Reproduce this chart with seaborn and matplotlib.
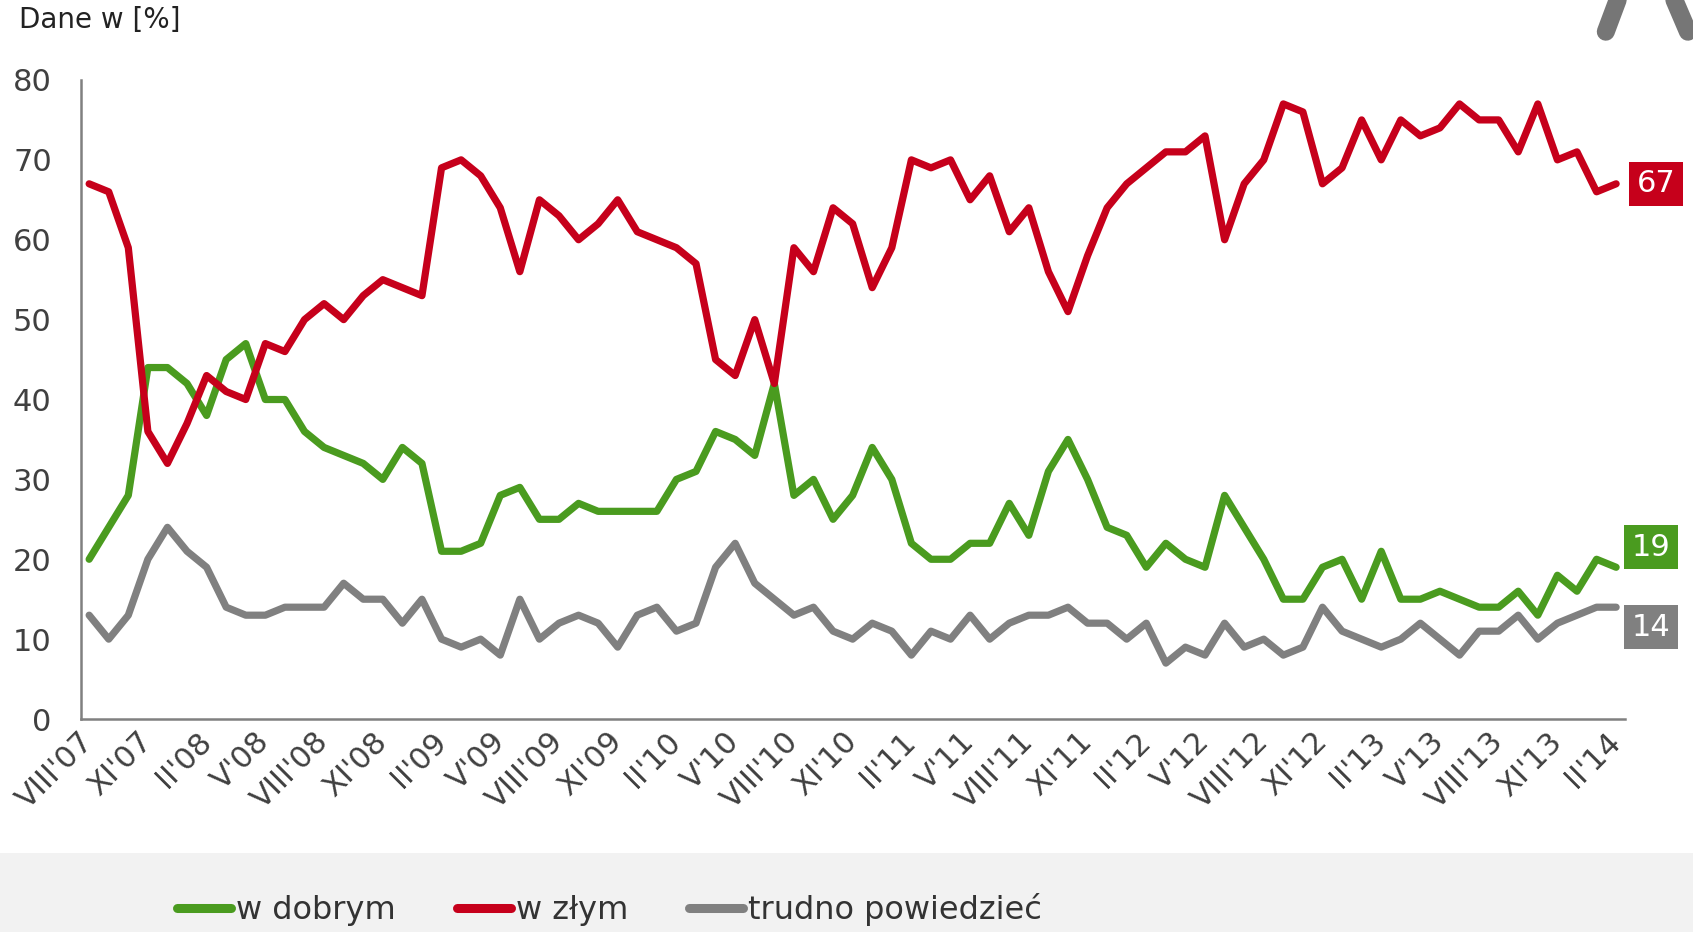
import matplotlib
matplotlib.use('Agg')  # no display

import matplotlib.pyplot as plt
import seaborn as sns
import pandas as pd
from matplotlib.lines import Line2D
from matplotlib.patches import Rectangle

# monthly data VIII'07 .. II'14
w_dobrym = [20, 24, 28, 44, 44, 42, 38, 45, 47, 40, 40, 36, 34, 33, 32, 30, 34, 32, 21, 21,
            22, 28, 29, 25, 25, 27, 26, 26, 26, 26, 30, 31, 36, 35, 33, 42, 28, 30, 25, 28,
            34, 30, 22, 20, 20, 22, 22, 27, 23, 31, 35, 30, 24, 23, 19, 22, 20, 19, 28, 24,
            20, 15, 15, 19, 20, 15, 21, 15, 15, 16, 15, 14, 14, 16, 13, 18, 16, 20, 19]
w_zlym = [67, 66, 59, 36, 32, 37, 43, 41, 40, 47, 46, 50, 52, 50, 53, 55, 54, 53, 69, 70,
          68, 64, 56, 65, 63, 60, 62, 65, 61, 60, 59, 57, 45, 43, 50, 42, 59, 56, 64, 62,
          54, 59, 70, 69, 70, 65, 68, 61, 64, 56, 51, 58, 64, 67, 69, 71, 71, 73, 60, 67,
          70, 77, 76, 67, 69, 75, 70, 75, 73, 74, 77, 75, 75, 71, 77, 70, 71, 66, 67]
trudno = [13, 10, 13, 20, 24, 21, 19, 14, 13, 13, 14, 14, 14, 17, 15, 15, 12, 15, 10, 9,
          10, 8, 15, 10, 12, 13, 12, 9, 13, 14, 11, 12, 19, 22, 17, 15, 13, 14, 11, 10,
          12, 11, 8, 11, 10, 13, 10, 12, 13, 13, 14, 12, 12, 10, 12, 7, 9, 8, 12, 9,
          10, 8, 9, 14, 11, 10, 9, 10, 12, 10, 8, 11, 11, 13, 10, 12, 13, 14, 14]

tick_labels = ["VIII'07", "XI'07", "II'08", "V'08", "VIII'08", "XI'08", "II'09", "V'09",
               "VIII'09", "XI'09", "II'10", "V'10", "VIII'10", "XI'10", "II'11", "V'11",
               "VIII'11", "XI'11", "II'12", "V'12", "VIII'12", "XI'12", "II'13", "V'13",
               "VIII'13", "XI'13", "II'14"]

series_names = ['w dobrym', 'w złym', 'trudno powiedzieć']
colors = {'w dobrym': '#4a9b1f', 'w złym': '#c6001b', 'trudno powiedzieć': '#808080'}

months = list(range(len(w_dobrym)))
df = pd.DataFrame({
    'miesiac': months * 3,
    'wartosc': w_dobrym + w_zlym + trudno,
    'seria': [n for n in series_names for _ in months],
})

sns.set_style('white')
plt.rcParams['font.family'] = ['DejaVu Sans']

fig = plt.figure(figsize=(16.93, 9.32), dpi=100)
ax = fig.add_axes([0.0478, 0.2285, 0.912, 0.6857])

sns.lineplot(data=df, x='miesiac', y='wartosc', hue='seria', hue_order=series_names,
             palette=colors, linewidth=5.2, solid_capstyle='round',
             solid_joinstyle='round', legend=False, ax=ax)

ax.set_xlim(-0.42, 78.45)
ax.set_ylim(0, 80)
ax.set_yticks(range(0, 81, 10))
ax.set_xticks(months[::3])
ax.set_xticklabels(tick_labels, rotation=45, ha='right', va='center',
                   rotation_mode='anchor')
ax.set_xlabel('')
ax.set_ylabel('')
ax.tick_params(axis='y', length=0, pad=21, labelsize=22, labelcolor='#404040')
ax.tick_params(axis='x', length=0, pad=13, labelsize=22, labelcolor='#404040')

for side in ['top', 'right']:
    ax.spines[side].set_visible(False)
for side in ['left', 'bottom']:
    ax.spines[side].set_color('#808080')
    ax.spines[side].set_linewidth(1.8)

# end value boxes
last = {'w dobrym': w_dobrym[-1], 'w złym': w_zlym[-1], 'trudno powiedzieć': trudno[-1]}
offsets = {'w dobrym': (11, 14.5), 'w złym': (15, 0), 'trudno powiedzieć': (11, -14.5)}
for name in series_names:
    ax.annotate(str(last[name]), xy=(months[-1], last[name]), xytext=offsets[name],
                textcoords='offset points', ha='left', va='center', fontsize=22,
                color='white', annotation_clip=False,
                bbox=dict(boxstyle='square,pad=0.25', fc=colors[name], ec='none'))

fig.text(0.011, 0.979, 'Dane w [%]', fontsize=20, color='#222222', va='center', ha='left')

# grey band with legend
fig.add_artist(Rectangle((0, 0), 1, 0.085, transform=fig.transFigure,
                         fc='#f2f2f2', ec='none', zorder=0))
handles = [Line2D([], [], color=colors[n], linewidth=6.5, solid_capstyle='round')
           for n in series_names]
fig.legend(handles, series_names, loc='center', bbox_to_anchor=(0.36, 0.024), ncol=3,
           frameon=False, fontsize=23, handlelength=1.7, handletextpad=0.15,
           columnspacing=1.9, labelcolor='#333333')

# fragment of logo in the corner
for xs, ys in [((0.9555, 0.9485), (1.0, 0.966)), ((0.989, 0.997), (1.0, 0.966))]:
    fig.add_artist(Line2D(xs, ys, transform=fig.transFigure, color='#767676',
                          linewidth=13, solid_capstyle='round'))

plt.savefig('out.png', dpi=100)
